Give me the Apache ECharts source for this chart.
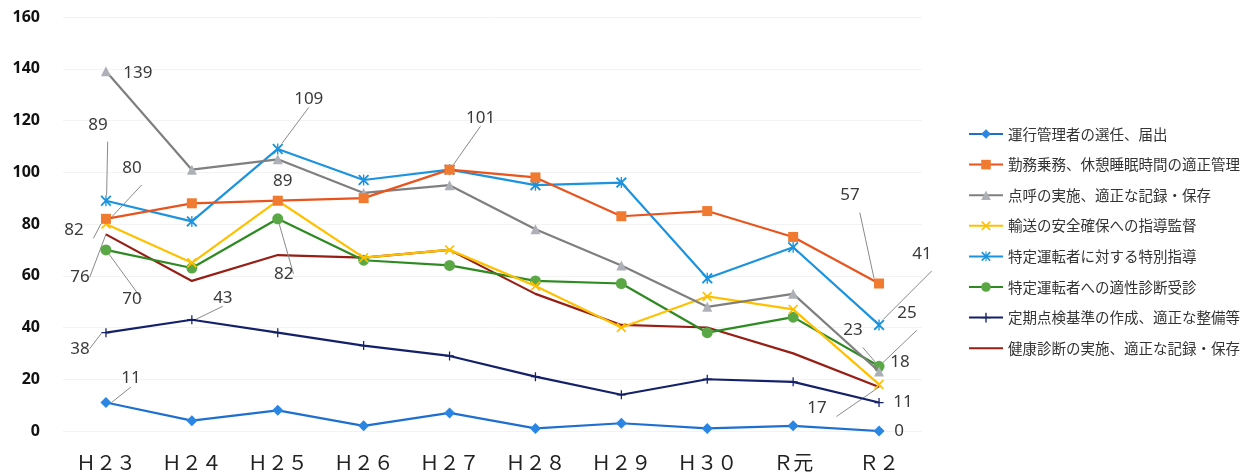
<!DOCTYPE html>
<html><head><meta charset="utf-8">
<script src="https://cdn.jsdelivr.net/npm/echarts@6/dist/echarts.min.js"></script>
<style>html,body{margin:0;padding:0;background:#fff}#c{width:1259px;height:476px}</style>
</head><body><div id="c"></div>
<script>
const categories = ['Ｈ２３','Ｈ２４','Ｈ２５','Ｈ２６','Ｈ２７','Ｈ２８','Ｈ２９','Ｈ３０','Ｒ元','Ｒ２'];
const yMin = 0, yMax = 160, yStep = 20;

const unkou     = [11, 4, 8, 2, 7, 1, 3, 1, 2, 0];
const kinmu     = [82, 88, 89, 90, 101, 98, 83, 85, 75, 57];
const tenko     = [139, 101, 105, 92, 95, 78, 64, 48, 53, 23];
const yusou     = [80, 65, 89, 67, 70, 56, 40, 52, 47, 18];
const tokubetsu = [89, 81, 109, 97, 101, 95, 96, 59, 71, 41];
const tekisei   = [70, 63, 82, 66, 64, 58, 57, 38, 44, 25];
const teiki     = [38, 43, 38, 33, 29, 21, 14, 20, 19, 11];
const kenkou    = [76, 58, 68, 67, 70, 53, 41, 40, 30, 17];

const names = [
  '運行管理者の選任、届出',
  '勤務乗務、休憩睡眠時間の適正管理',
  '点呼の実施、適正な記録・保存',
  '輸送の安全確保への指導監督',
  '特定運転者に対する特別指導',
  '特定運転者への適性診断受診',
  '定期点検基準の作成、適正な整備等',
  '健康診断の実施、適正な記録・保存'
];

// label placement (offset from point, leader line shown?)
const labelSpec = [
  {0:[25,-24,true], 9:[20,0,false]},
  {0:[-32,11,true], 9:[-29,-88,true]},
  {0:[32,2,false], 9:[-26,-41,true]},
  {0:[26,-56,true], 2:[5,-20,false], 9:[21,-22,false]},
  {0:[-8,-76,true], 2:[31,-50,true], 4:[31,-52,true], 9:[43,-71,true]},
  {0:[26,49,true], 2:[6,55,true], 9:[28,-53,true]},
  {0:[-26,16,true], 1:[31,-22,true], 9:[24,0,false]},
  {0:[-26,43,true], 9:[-62,21,true]}
];

const X_PATH = 'path://M0,1.2L1.2,0L5,3.8L8.8,0L10,1.2L6.2,5L10,8.8L8.8,10L5,6.2L1.2,10L0,8.8L3.8,5Z';
const AST_PATH = 'path://M0,1.2L1.2,0L5,3.8L8.8,0L10,1.2L6.2,5L10,8.8L8.8,10L5,6.2L1.2,10L0,8.8L3.8,5Z M4.4,0L5.6,0L5.6,10L4.4,10Z';
const PLUS_PATH = 'path://M4.3,0L5.7,0L5.7,4.3L10,4.3L10,5.7L5.7,5.7L5.7,10L4.3,10L4.3,5.7L0,5.7L0,4.3L4.3,4.3Z';

const styles = [
  {line:'#1E6FD0', mark:'#2A86E2', symbol:'diamond', size:11},
  {line:'#E8541E', mark:'#F07A30', symbol:'rect', size:10},
  {line:'#7F7F7F', mark:'#AEB0B8', symbol:'triangle', size:10},
  {line:'#FFC000', mark:'#FFC000', symbol:X_PATH, size:10},
  {line:'#1C93DE', mark:'#1C93DE', symbol:AST_PATH, size:11},
  {line:'#2E8A22', mark:'#5AA845', symbol:'circle', size:11},
  {line:'#14206A', mark:'#14206A', symbol:PLUS_PATH, size:9},
  {line:'#961E14', mark:'#961E14', symbol:'circle', size:1, noLegendMark:true}
];

const allData = [unkou, kinmu, tenko, yusou, tokubetsu, tekisei, teiki, kenkou];

const series = allData.map((vals, si) => ({
  name: names[si],
  type: 'line',
  symbol: styles[si].symbol,
  symbolSize: styles[si].size,
  lineStyle: {color: styles[si].line, width: 2.2},
  itemStyle: {color: styles[si].mark},
  label: {show: false},
  z: 10 - si,
  data: vals.map((v, i) => {
    const sp = labelSpec[si][i];
    if (!sp) return v;
    return {
      value: v,
      label: {
        show: true, position: 'inside', offset: [sp[0], sp[1]],
        color: '#3a3a3a', fontSize: 17, fontFamily: 'Noto Sans'
      },
      labelLine: {show: sp[2], lineStyle: {color: '#8a8a8a', width: 1}}
    };
  })
}));

const legendData = names.map((n, si) => styles[si].noLegendMark
  ? {name: n, itemStyle: {color: 'rgba(0,0,0,0)', borderWidth: 0}}
  : {name: n});

const chart = echarts.init(document.getElementById('c'));
chart.setOption({
  animation: false,
  backgroundColor: '#fff',
  grid: {left: 63, right: 337, top: 17, bottom: 45, containLabel: false},
  xAxis: {
    type: 'category', data: categories, boundaryGap: true,
    axisLine: {show: false}, axisTick: {show: false},
    axisLabel: {color: '#222', fontSize: 20, margin: 21, fontFamily: 'Noto Sans CJK JP'}
  },
  yAxis: {
    type: 'value', min: yMin, max: yMax, interval: yStep,
    axisLine: {show: false}, axisTick: {show: false},
    splitLine: {lineStyle: {color: '#f3f3f3', width: 1}},
    axisLabel: {color: '#111', fontSize: 16, fontWeight: 'bold', margin: 23, fontFamily: 'Noto Sans'}
  },
  legend: {
    orient: 'vertical', left: 963, top: 121,
    itemWidth: 34, itemHeight: 12, itemGap: 14.6,
    textStyle: {color: '#333', fontSize: 14.5, lineHeight: 16, fontFamily: 'Noto Sans CJK JP'},
    data: legendData
  },
  series: series
});
</script></body></html>
